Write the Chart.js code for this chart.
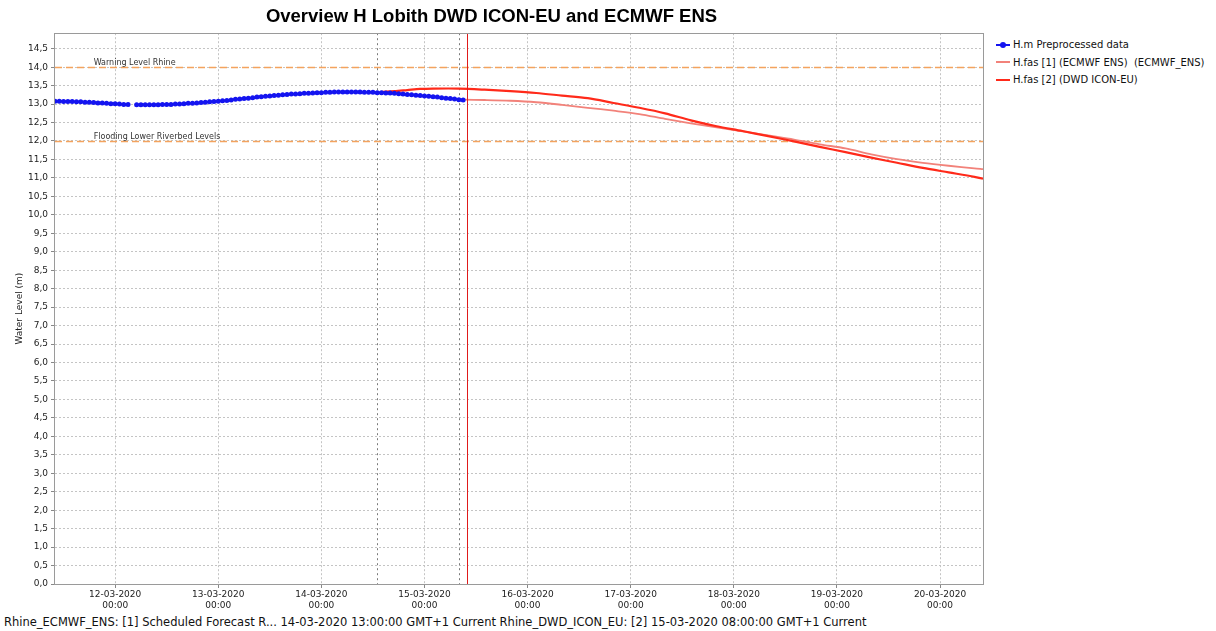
<!DOCTYPE html>
<html>
<head>
<meta charset="utf-8">
<script src="https://cdn.jsdelivr.net/npm/chart.js@4.4.0/dist/chart.umd.min.js"></script>
<style>
  html, body { margin: 0; padding: 0; background: #fff; }
  body { width: 1216px; height: 631px; position: relative; overflow: hidden; font-family: 'DejaVu Sans', sans-serif; }
  #wrap { position: absolute; left: 0; top: 0; width: 990px; height: 612px; }
  #legend { position: absolute; left: 996px; top: 36px; font-size: 10px; color: #111; }
  .lg-row { height: 17.5px; display: flex; align-items: center; white-space: pre; }
  .lg-key { position: relative; width: 14px; height: 10px; margin-right: 3px; }
  .lg-key i { position: absolute; left: 0; right: 0; top: 4px; border-top: 2px solid; }
  .lg-key b { position: absolute; left: 4px; top: 2px; width: 6px; height: 6px; border-radius: 50%; }
  #foot { position: absolute; left: 4px; top: 615px; font-size: 11.5px; color: #111; white-space: pre; }
</style>
</head>
<body>
<div id="wrap"><canvas id="chart"></canvas></div>
<div id="legend"></div>
<div id="foot">Rhine_ECMWF_ENS: [1] Scheduled Forecast R... 14-03-2020 13:00:00 GMT+1 Current Rhine_DWD_ICON_EU: [2] 15-03-2020 08:00:00 GMT+1 Current</div>
<script>
// x-as in uren vanaf 11-03-2020 00:00
const X_MIN = 10;   // 11-03 10:00
const X_MAX = 226;  // 20-03 10:00

const dayHours  = [24, 48, 72, 96, 120, 144, 168, 192, 216];
const dayLabels = ['12-03-2020', '13-03-2020', '14-03-2020', '15-03-2020', '16-03-2020',
                   '17-03-2020', '18-03-2020', '19-03-2020', '20-03-2020'];

// H.m Preprocessed data: uurwaarden vanaf 11-03 10:00
const obsStart = 10;
const obsLevels = [
  13.08, 13.08, 13.07, 13.07, 13.07, 13.06, 13.06, 13.05, 13.05, 13.04, 13.03, 13.03, 13.02, 13.01,
  13.01, 13.00, 12.99, 12.99, null, 12.98, 12.98, 12.98, 12.98, 12.98, 12.98, 12.99, 12.99, 12.99,
  13.00, 13.00, 13.01, 13.02, 13.02, 13.03, 13.04, 13.05, 13.06, 13.07,
  13.08, 13.09, 13.10, 13.11, 13.13, 13.14, 13.15, 13.16, 13.17, 13.19, 13.20, 13.21, 13.22, 13.23,
  13.24, 13.25, 13.26, 13.27, 13.27, 13.28, 13.29, 13.29, 13.30, 13.31,
  13.31, 13.32, 13.32, 13.33, 13.33, 13.33, 13.33, 13.33, 13.33, 13.33, 13.32, 13.32, 13.32, 13.31,
  13.31, 13.30, 13.30, 13.29, 13.28, 13.27, 13.26, 13.25, 13.24, 13.23,
  13.22, 13.21, 13.20, 13.19, 13.17, 13.16, 13.15, 13.14, 13.12, 13.11
];

// H.fas [1] (ECMWF ENS)
const ecmwfHours  = [105, 110, 116, 122, 128, 134, 140, 146, 152, 158, 164, 170, 176, 182, 188, 194, 200, 206, 212, 218, 224, 226];
const ecmwfLevels = [13.12, 13.11, 13.09, 13.05, 12.98, 12.90, 12.82, 12.73, 12.60, 12.48, 12.37, 12.26, 12.15, 12.04, 11.91, 11.80, 11.64, 11.51, 11.41, 11.33, 11.26, 11.24];

// H.fas [2] (DWD ICON-EU)
const dwdHours  = [86, 89, 92, 95, 98, 104, 110, 116, 122, 128, 134, 140, 146, 152, 158, 164, 170, 176, 182, 188, 194, 200, 206, 212, 218, 224, 226];
const dwdLevels = [13.33, 13.35, 13.38, 13.41, 13.42, 13.42, 13.39, 13.35, 13.30, 13.23, 13.16, 13.03, 12.90, 12.75, 12.56, 12.40, 12.27, 12.13, 11.99, 11.84, 11.70, 11.55, 11.41, 11.27, 11.15, 11.03, 10.98];

// drempels
const thresholdValues = [14.0, 12.0];
const thresholdLabels = ['Warning Level Rhine', 'Flooding Lower Riverbed Levels'];

// verticale markeringen: forecast T0 (ECMWF, DWD) en systeemtijd
const forecastT0Hours = [85, 104];
const systemTimeHour = 106;

const COLORS = {
  obs:   '#1414f0',
  ecmwf: '#f2827a',
  dwd:   '#ff2a1a',
  thr:   '#f4a35e',
  now:   '#e01a1a',
  grid:  '#c4c4c4',
  text:  '#222'
};

const pts = (xs, ys) => xs.map((x, i) => ({ x, y: ys[i] }));

const decorations = {
  id: 'decorations',
  beforeDatasetsDraw(chart) {
    const { ctx, chartArea: a, scales: { x, y } } = chart;
    ctx.save();
    // drempellijnen
    thresholdValues.forEach((v, i) => {
      const py = Math.round(y.getPixelForValue(v)) + 0.5;
      ctx.strokeStyle = COLORS.thr;
      ctx.lineWidth = 1.5;
      ctx.setLineDash([7, 4]);
      ctx.beginPath(); ctx.moveTo(a.left, py); ctx.lineTo(a.right, py); ctx.stroke();
      ctx.setLineDash([]);
      ctx.fillStyle = '#333';
      ctx.font = '8px "DejaVu Sans"';
      ctx.textBaseline = 'bottom';
      ctx.fillText(thresholdLabels[i], x.getPixelForValue(19), py - 1);
    });
    // forecast T0 lijnen
    ctx.strokeStyle = '#7a7a7a';
    ctx.lineWidth = 1;
    ctx.setLineDash([2, 3]);
    forecastT0Hours.forEach(h => {
      const px = Math.round(x.getPixelForValue(h)) + 0.5;
      ctx.beginPath(); ctx.moveTo(px, a.top); ctx.lineTo(px, a.bottom); ctx.stroke();
    });
    ctx.restore();
  },
  afterDraw(chart) {
    const { ctx, chartArea: a, scales: { x } } = chart;
    ctx.save();
    const px = Math.round(x.getPixelForValue(systemTimeHour)) + 0.5;
    ctx.strokeStyle = COLORS.now;
    ctx.lineWidth = 1;
    ctx.beginPath(); ctx.moveTo(px, a.top); ctx.lineTo(px, a.bottom); ctx.stroke();
    ctx.strokeStyle = '#9a9a9a';
    ctx.strokeRect(Math.round(a.left) - 0.5, Math.round(a.top) + 0.5, Math.round(a.right - a.left) + 1, Math.round(a.bottom - a.top));
    ctx.restore();
  }
};

new Chart(document.getElementById('chart'), {
  type: 'line',
  data: {
    datasets: [
      {
        label: 'H.m Preprocessed data',
        data: obsLevels.map((v, i) => ({ x: obsStart + i, y: v })),
        borderColor: COLORS.obs, backgroundColor: COLORS.obs,
        borderWidth: 2.2, pointRadius: 2.5, pointBorderWidth: 0, spanGaps: false, order: 1
      },
      {
        label: 'H.fas [1] (ECMWF ENS)  (ECMWF_ENS)',
        data: pts(ecmwfHours, ecmwfLevels),
        borderColor: COLORS.ecmwf, borderWidth: 1.8, pointRadius: 0, tension: 0.3, order: 3
      },
      {
        label: 'H.fas [2] (DWD ICON-EU)',
        data: pts(dwdHours, dwdLevels),
        borderColor: COLORS.dwd, borderWidth: 2.2, pointRadius: 0, tension: 0.3, order: 2
      }
    ]
  },
  plugins: [decorations],
  options: {
    responsive: true,
    maintainAspectRatio: false,
    animation: false,
    layout: { padding: { left: 0, right: 7, top: 0, bottom: 0 } },
    plugins: {
      legend: { display: false },
      tooltip: { enabled: false },
      title: {
        display: true,
        text: 'Overview H Lobith DWD ICON-EU and ECMWF ENS',
        color: '#000',
        font: { family: '"Liberation Sans", Arial, sans-serif', size: 18.5, weight: 'bold' },
        padding: { top: 6, bottom: 5 }
      }
    },
    scales: {
      x: {
        type: 'linear', min: X_MIN, max: X_MAX,
        afterBuildTicks: s => { s.ticks = dayHours.map(v => ({ value: v })); },
        afterFit: s => { s.height = 28; },
        grid: { color: COLORS.grid, tickColor: '#888', tickLength: 4 },
        border: { display: false, dash: [2, 2] },
        ticks: {
          autoSkip: false, maxRotation: 0, padding: 1, color: COLORS.text,
          font: { family: '"DejaVu Sans"', size: 9 },
          callback: v => [dayLabels[dayHours.indexOf(v)], '00:00']
        }
      },
      y: {
        min: 0, max: 14.92,
        afterBuildTicks: s => {
          const t = [];
          for (let k = 0; k <= 29; k++) t.push({ value: k * 0.5 });
          s.ticks = t;
        },
        afterFit: s => { s.width = 55; },
        grid: { color: COLORS.grid, tickColor: '#888', tickLength: 4 },
        border: { display: false, dash: [2, 2] },
        title: {
          display: true, text: 'Water Level (m)', color: COLORS.text,
          font: { family: '"DejaVu Sans"', size: 9 }, padding: { top: 14, bottom: 0 }
        },
        ticks: {
          autoSkip: false, padding: 3, color: COLORS.text,
          font: { family: '"DejaVu Sans"', size: 9 },
          callback: v => v.toFixed(1).replace('.', ',')
        }
      }
    }
  }
});

// legenda rechts
const legendItems = [
  { text: 'H.m Preprocessed data', color: COLORS.obs, dot: true },
  { text: 'H.fas [1] (ECMWF ENS)  (ECMWF_ENS)', color: COLORS.ecmwf },
  { text: 'H.fas [2] (DWD ICON-EU)', color: COLORS.dwd }
];
document.getElementById('legend').innerHTML = legendItems.map(it =>
  `<div class="lg-row"><span class="lg-key"><i style="border-color:${it.color}"></i>` +
  (it.dot ? `<b style="background:${it.color}"></b>` : '') +
  `</span>${it.text}</div>`).join('');
</script>
</body>
</html>
